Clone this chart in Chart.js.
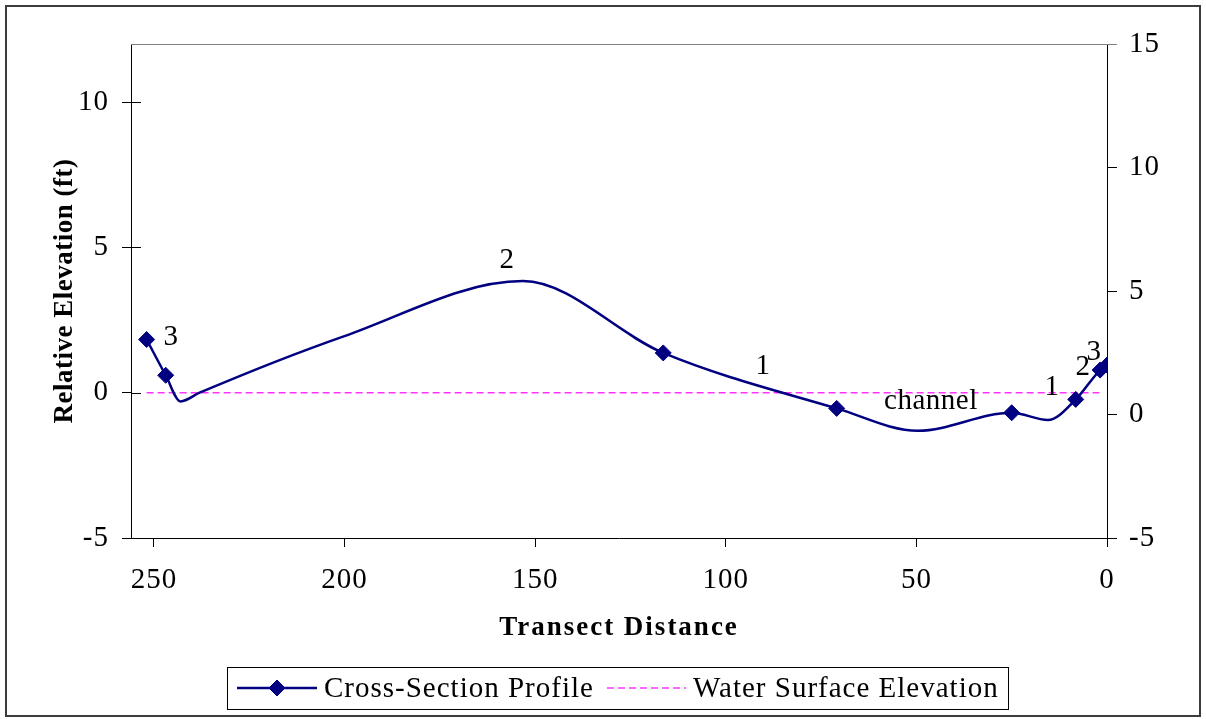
<!DOCTYPE html>
<html>
<head>
<meta charset="utf-8">
<title>Cross-Section Profile</title>
<script src="https://cdn.jsdelivr.net/npm/chart.js@4.4.0/dist/chart.umd.min.js"></script>
<style>
  html, body { margin: 0; padding: 0; background: #fff; }
  #wrap { width: 1206px; height: 719px; }
</style>
</head>
<body>
<div id="wrap"><canvas id="profile" width="1206" height="719"></canvas></div>
<script>

// survey stations (distance runs right to left)
var distance = [251.9, 246.9, 243.0, 238.0, 200.2, 153.2, 116.4, 70.9, 49.6, 25.0, 15.5, 8.2, 1.8, 0];
var elevation = [1.83, 0.60, -0.30, 0.00, 1.94, 3.84, 1.37, -0.54, -1.31, -0.69, -0.94, -0.23, 0.78, 0.95];
var surveyed = [true, true, false, false, false, false, true, true, false, true, false, true, true, true];

var waterDistance = [251.9, 2.0];
var waterElevation = [0, 0];

// text notes placed along the profile
var noteText = ["3", "2", "1", "channel", "1", "2", "3"];
var noteDistance = [245.5, 157.4, 90.2, 46.2, 14.4, 6.3, 3.4];
var noteElevation = [1.90, 4.55, 0.90, -0.31, 0.17, 0.86, 1.38];

var xTicks = [250, 200, 150, 100, 50, 0];
var yTicks = [-5, 0, 5, 10];
var y2Ticks = [-5, 0, 5, 10, 15];

var serif = '"Liberation Serif", "Times New Roman", serif';

Chart.defaults.font.family = serif;
Chart.defaults.font.size = 29;
Chart.defaults.color = '#000';

function toPoints(xs, ys) {
	return xs.map(function (v, i) { return { x: v, y: ys[i] }; });
}

function fixedTicks(list) {
	return function (scale) {
		scale.ticks = list.map(function (v) { return { value: v }; });
	};
}

var extras = {
	id: 'extras',
	beforeDraw: function (chart) {
		chart.ctx.letterSpacing = '1px';
	},
	afterDraw: function (chart) {
		var ctx = chart.ctx;
		var a = chart.chartArea;
		var xs = chart.scales.x;
		var ys = chart.scales.y;

		ctx.save();

		// outer border
		ctx.strokeStyle = '#3c3c3c';
		ctx.lineWidth = 2;
		ctx.strokeRect(6, 6, 1194, 710);

		// top edge of the plot area
		ctx.strokeStyle = '#808080';
		ctx.lineWidth = 1;
		ctx.beginPath();
		ctx.moveTo(a.left, Math.round(a.top) + 0.5);
		ctx.lineTo(a.right + 10, Math.round(a.top) + 0.5);
		ctx.stroke();

		// left ticks cross the axis
		ctx.strokeStyle = '#000';
		yTicks.forEach(function (v) {
			var py = Math.round(ys.getPixelForValue(v)) + 0.5;
			ctx.beginPath();
			ctx.moveTo(a.left, py);
			ctx.lineTo(a.left + 10, py);
			ctx.stroke();
		});

		// notes
		ctx.fillStyle = '#000';
		ctx.textAlign = 'center';
		ctx.textBaseline = 'middle';
		ctx.font = '29px ' + serif;
		ctx.letterSpacing = '0.5px';
		noteText.forEach(function (t, i) {
			ctx.fillText(t, xs.getPixelForValue(noteDistance[i]), ys.getPixelForValue(noteElevation[i]));
		});

		// axis titles
		ctx.font = 'bold 27px ' + serif;
		ctx.letterSpacing = '2px';
		ctx.fillText('Transect Distance', (a.left + a.right) / 2, 628);

		ctx.save();
		ctx.translate(65, (a.top + a.bottom) / 2);
		ctx.rotate(-Math.PI / 2);
		ctx.letterSpacing = '0.5px';
		ctx.fillText('Relative Elevation (ft)', 0, 0);
		ctx.restore();

		// legend
		var ds = chart.data.datasets;
		var ly = 688;
		ctx.strokeStyle = '#000';
		ctx.lineWidth = 1;
		ctx.strokeRect(227.5, 667.5, 781, 42);

		ctx.strokeStyle = ds[0].borderColor;
		ctx.lineWidth = ds[0].borderWidth;
		ctx.beginPath();
		ctx.moveTo(237, ly);
		ctx.lineTo(317, ly);
		ctx.stroke();
		ctx.fillStyle = ds[0].backgroundColor;
		ctx.lineWidth = 1;
		Chart.helpers.drawPoint(ctx, { pointStyle: 'rectRot', radius: 8, rotation: 0, borderWidth: 1 }, 277, ly);

		ctx.strokeStyle = ds[1].borderColor;
		ctx.lineWidth = ds[1].borderWidth;
		ctx.setLineDash(ds[1].borderDash);
		ctx.beginPath();
		ctx.moveTo(607, ly);
		ctx.lineTo(686, ly);
		ctx.stroke();
		ctx.setLineDash([]);

		ctx.fillStyle = '#000';
		ctx.textAlign = 'left';
		ctx.font = '29px ' + serif;
		ctx.letterSpacing = '1px';
		ctx.fillText(ds[0].label, 324, ly + 1);
		ctx.fillText(ds[1].label, 693, ly + 1);

		ctx.restore();
	}
};

var ctx = document.getElementById('profile').getContext('2d');

var profileChart = new Chart(ctx, {
	type: 'line',
	data: {
		datasets: [
		{
			label: 'Cross-Section Profile',
			data: toPoints(distance, elevation),
			borderColor: '#000080',
			backgroundColor: '#000080',
			borderWidth: 2.5,
			pointStyle: 'rectRot',
			pointRadius: function (c) { return surveyed[c.dataIndex] ? 8 : 0; },
			pointBorderWidth: 1,
			cubicInterpolationMode: 'monotone',
			yAxisID: 'y'
		},
		{
			label: 'Water Surface Elevation',
			data: toPoints(waterDistance, waterElevation),
			borderColor: '#ff33ff',
			backgroundColor: '#ff33ff',
			borderWidth: 1.5,
			borderDash: [7, 4],
			pointRadius: 0,
			tension: 0,
			yAxisID: 'y'
		}]
	},
	options: {
		responsive: false,
		animation: false,
		devicePixelRatio: 1,
		layout: { padding: { left: 0, right: 0, top: 44, bottom: 0 } },
		plugins: {
			legend: { display: false },
			tooltip: { enabled: false }
		},
		scales: {
			x: {
				type: 'linear',
				reverse: true,
				min: 0,
				max: 256,
				afterBuildTicks: fixedTicks(xTicks),
				afterFit: function (s) { s.height = 181; },
				grid: { drawOnChartArea: false, tickLength: 9, color: '#000' },
				border: { color: '#000', width: 1 },
				ticks: { padding: 16, maxRotation: 0 }
			},
			y: {
				position: 'left',
				min: -5,
				max: 12,
				afterBuildTicks: fixedTicks(yTicks),
				afterFit: function (s) { s.width = 131; },
				grid: { drawOnChartArea: false, tickLength: 9, color: '#000' },
				border: { color: '#000', width: 1 },
				ticks: { padding: 13 }
			},
			y2: {
				position: 'right',
				display: true,
				min: -5,
				max: 15,
				afterBuildTicks: fixedTicks(y2Ticks),
				afterFit: function (s) { s.width = 99; },
				grid: { drawOnChartArea: false, tickLength: 10, color: '#000' },
				border: { color: '#000', width: 1 },
				ticks: { padding: 12 }
			}
		}
	},
	plugins: [extras]
});
</script>
</body>
</html>
